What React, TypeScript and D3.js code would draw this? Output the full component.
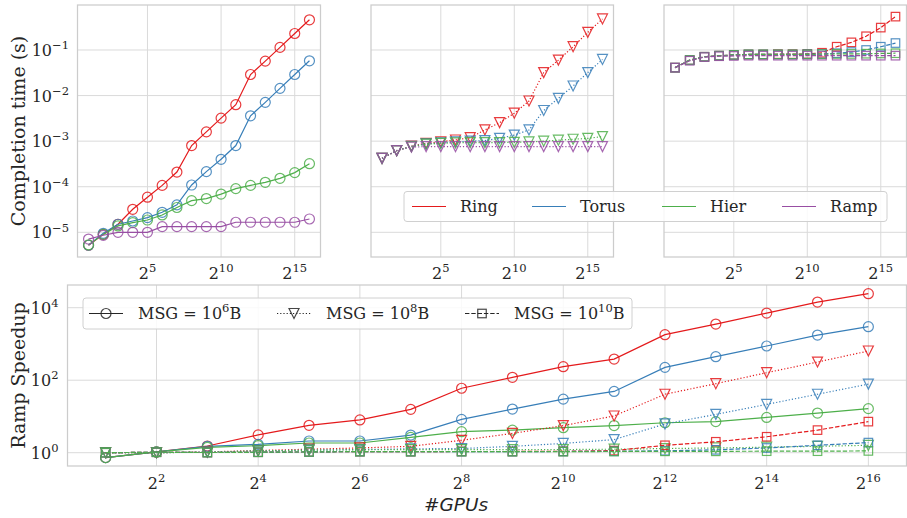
import React from 'react';
import * as d3 from 'd3';

const gpus = [2, 4, 8, 16, 32, 64, 128, 256, 512, 1024, 2048, 4096, 8192, 16384, 32768, 65536];
const algos = ['Ring', 'Torus', 'Hier', 'Ramp'];
const colors = ['#e41a1c', '#377eb8', '#4daf4a', '#984ea3'];

// Completion time (s), MSG = 1e6 B
const ring6 = [5.2e-6, 9e-6, 1.5e-5, 3.2e-5, 5.9e-5, 1.07e-4, 2.1e-4, 8e-4, 1.6e-3, 3.2e-3, 6.3e-3, 0.029, 0.057, 0.114, 0.23, 0.46];
const torus6 = [5.2e-6, 9.5e-6, 1.5e-5, 1.77e-5, 2.1e-5, 2.75e-5, 4.0e-5, 1.09e-4, 2.14e-4, 4.0e-4, 8e-4, 3.6e-3, 7.1e-3, 0.0144, 0.029, 0.058];
const hier6 = [5.3e-6, 9e-6, 1.38e-5, 1.63e-5, 1.86e-5, 2.4e-5, 3.5e-5, 4.95e-5, 5.5e-5, 6.9e-5, 9.1e-5, 1.07e-4, 1.25e-4, 1.53e-4, 2.04e-4, 3.2e-4];
const ramp6 = [7.1e-6, 8.6e-6, 1.0e-5, 1.0e-5, 1.0e-5, 1.33e-5, 1.33e-5, 1.33e-5, 1.33e-5, 1.33e-5, 1.66e-5, 1.66e-5, 1.66e-5, 1.66e-5, 1.66e-5, 1.96e-5];

// MSG = 1e8 B
const ring8 = [4.2e-4, 6.2e-4, 7.8e-4, 8.95e-4, 9.7e-4, 1.06e-3, 1.19e-3, 1.76e-3, 2.55e-3, 4.1e-3, 7.6e-3, 0.032, 0.060, 0.118, 0.244, 0.48];
const torus8 = [4.2e-4, 6.2e-4, 7.7e-4, 8.7e-4, 9.2e-4, 9.6e-4, 1.0e-3, 1.03e-3, 1.15e-3, 1.36e-3, 1.76e-3, 4.7e-3, 8.7e-3, 0.0162, 0.032, 0.062];
const hier8 = [4.2e-4, 6.2e-4, 7.6e-4, 8.6e-4, 8.9e-4, 9.2e-4, 9.3e-4, 9.3e-4, 9.3e-4, 9.4e-4, 9.6e-4, 1.0e-3, 1.05e-3, 1.1e-3, 1.15e-3, 1.26e-3];
const ramp8 = [4.2e-4, 6.2e-4, 7.4e-4, 7.6e-4, 7.6e-4, 7.6e-4, 7.6e-4, 7.6e-4, 7.6e-4, 7.6e-4, 7.6e-4, 7.6e-4, 7.6e-4, 7.6e-4, 7.6e-4, 7.6e-4];

// MSG = 1e10 B
const ring10 = [0.041, 0.060, 0.071, 0.075, 0.078, 0.080, 0.080, 0.081, 0.081, 0.082, 0.087, 0.118, 0.147, 0.20, 0.31, 0.54];
const torus10 = [0.041, 0.060, 0.071, 0.075, 0.078, 0.080, 0.080, 0.080, 0.080, 0.081, 0.082, 0.085, 0.090, 0.100, 0.118, 0.142];
const hier10 = [0.041, 0.060, 0.071, 0.075, 0.078, 0.080, 0.080, 0.080, 0.080, 0.080, 0.081, 0.082, 0.082, 0.083, 0.084, 0.085];
const ramp10 = [0.041, 0.058, 0.070, 0.073, 0.074, 0.075, 0.075, 0.075, 0.075, 0.075, 0.075, 0.075, 0.075, 0.075, 0.075, 0.075];

// Ramp speedup
const ringSp6 = [0.73, 1.05, 1.53, 3.1, 5.7, 8.0, 15.7, 60, 120, 236, 383, 1800, 3540, 7120, 14300, 24300];
const torusSp6 = [0.73, 1.05, 1.5, 1.7, 2.1, 2.1, 3.07, 8.3, 16, 30, 49, 226, 445, 877, 1760, 2990];
const hierSp6 = [0.73, 1.05, 1.4, 1.56, 1.85, 1.85, 2.65, 3.8, 4.2, 4.9, 5.6, 6.7, 7.2, 9.4, 12.4, 16.4];
const ringSp8 = [1.0, 1.0, 1.05, 1.15, 1.25, 1.35, 1.5, 2.2, 3.4, 5.6, 10.3, 41, 80, 161, 317, 638];
const torusSp8 = [1.0, 1.0, 1.04, 1.12, 1.18, 1.22, 1.28, 1.3, 1.5, 1.8, 2.3, 6.2, 11.4, 21.5, 41, 78];
const hierSp8 = [1.0, 1.0, 1.03, 1.12, 1.17, 1.2, 1.22, 1.22, 1.22, 1.22, 1.25, 1.3, 1.35, 1.42, 1.5, 1.6];
const ringSp10 = [1.0, 1.03, 1.01, 1.03, 1.05, 1.07, 1.07, 1.08, 1.08, 1.09, 1.14, 1.6, 2.0, 2.75, 4.2, 7.2];
const torusSp10 = [1.0, 1.03, 1.01, 1.03, 1.05, 1.07, 1.07, 1.07, 1.07, 1.08, 1.09, 1.13, 1.2, 1.35, 1.6, 1.9];
const hierSp10 = [1.0, 1.03, 1.01, 1.03, 1.05, 1.07, 1.07, 1.07, 1.07, 1.07, 1.08, 1.09, 1.09, 1.1, 1.1, 1.12];

const topXTickExp = [5, 10, 15];
const topYTickExp = [-5, -4, -3, -2, -1];
const botXTickExp = [2, 4, 6, 8, 10, 12, 14, 16];
const botYTickExp = [0, 2, 4];
const msgExp = ['6', '8', '10'];

const SERIF = '"DejaVu Serif", serif';
const GRID = '#dadada';
const SPINE = '#cccccc';
const LW = 1.2;

type Style = 'solid' | 'dotted' | 'dashed';
const dashFor = (s: Style) => (s === 'dotted' ? '1.2 2' : s === 'dashed' ? '4.4 1.9' : undefined);

function Marker({ kind, cx, cy, color }: { kind: number; cx: number; cy: number; color: string }) {
  const common = { fill: 'none', stroke: color, strokeWidth: 1.2, strokeOpacity: 0.85 };
  if (kind === 0) return <circle cx={cx} cy={cy} r={5} {...common} />;
  if (kind === 1) {
    const s = 10;
    const p = d3.path();
    p.moveTo(cx - s / 2, cy - s / 2);
    p.lineTo(cx + s / 2, cy - s / 2);
    p.lineTo(cx, cy + s / 2);
    p.closePath();
    return <path d={p.toString()} {...common} />;
  }
  const s = 8.5;
  return <rect x={cx - s / 2} y={cy - s / 2} width={s} height={s} {...common} />;
}

function Series({ xs, ys, values, color, style, kind }: any) {
  const line = d3
    .line<number>()
    .x((_, i) => xs(gpus[i]))
    .y((v) => ys(v));
  return (
    <g>
      <path d={line(values) || ''} fill="none" stroke={color} strokeWidth={LW} strokeDasharray={dashFor(style)} />
      {values.map((v: number, i: number) => (
        <Marker key={i} kind={kind} cx={xs(gpus[i])} cy={ys(v)} color={color} />
      ))}
    </g>
  );
}

function Pow({ base, exp, x, y, anchor, size }: any) {
  return (
    <text x={x} y={y} textAnchor={anchor} fontFamily={SERIF} fontSize={size} fill="#262626">
      {base}
      <tspan dy={-size * 0.42} fontSize={size * 0.72}>
        {exp}
      </tspan>
    </text>
  );
}

export default function App() {
  const W = 907;
  const H = 518;
  const topBox = [
    { x0: 77.5, x1: 320.5 },
    { x0: 371, x1: 613.5 },
    { x0: 664, x1: 906.5 },
  ];
  const topTop = 5;
  const topBot = 257;
  const yTop = d3.scaleLog().domain([Math.pow(10, -5.542), Math.pow(10, -0.0127)]).range([topBot, topTop]);
  const topData = [
    [ring6, torus6, hier6, ramp6],
    [ring8, torus8, hier8, ramp8],
    [ring10, torus10, hier10, ramp10],
  ];
  const styles: Style[] = ['solid', 'dotted', 'dashed'];

  const bx0 = 67.5;
  const bx1 = 906.5;
  const bTop = 285;
  const bBot = 466;
  const xBot = d3.scaleLog().base(2).domain([Math.pow(2, 0.25), Math.pow(2, 16.75)]).range([bx0, bx1]);
  const yBot = d3.scaleLog().domain([Math.pow(10, -0.367), Math.pow(10, 4.626)]).range([bBot, bTop]);
  const botData = [
    [ringSp6, torusSp6, hierSp6],
    [ringSp8, torusSp8, hierSp8],
    [ringSp10, torusSp10, hierSp10],
  ];

  return (
    <svg width={W} height={H} style={{ position: 'absolute', left: 0, top: 0, background: '#fff' }}>
      <rect x={0} y={0} width={W} height={H} fill="#fff" />
      {topBox.map((b, pi) => {
        const xs = d3.scaleLog().base(2).domain([Math.pow(2, 0.25), Math.pow(2, 16.75)]).range([b.x0, b.x1]);
        return (
          <g key={pi}>
            {topYTickExp.map((e) => (
              <line key={'gy' + e} x1={b.x0} x2={b.x1} y1={yTop(Math.pow(10, e))} y2={yTop(Math.pow(10, e))} stroke={GRID} strokeWidth={1} />
            ))}
            {topXTickExp.map((e) => (
              <line key={'gx' + e} x1={xs(Math.pow(2, e))} x2={xs(Math.pow(2, e))} y1={topTop} y2={topBot} stroke={GRID} strokeWidth={1} />
            ))}
            <rect x={b.x0} y={topTop} width={b.x1 - b.x0} height={topBot - topTop} fill="none" stroke={SPINE} strokeWidth={1.25} />
            {topData[pi].map((vals, ai) => (
              <Series key={ai} xs={xs} ys={yTop} values={vals} color={colors[ai]} style={styles[pi]} kind={pi} />
            ))}
            {topXTickExp.map((e) => (
              <Pow key={'tx' + e} base="2" exp={String(e)} x={xs(Math.pow(2, e))} y={279} anchor="middle" size={16} />
            ))}
            {pi === 0 &&
              topYTickExp.map((e) => (
                <Pow key={'ty' + e} base="10" exp={'\u2212' + Math.abs(e)} x={69} y={yTop(Math.pow(10, e)) + 6} anchor="end" size={16} />
              ))}
          </g>
        );
      })}
      <text transform={`translate(25,${(topTop + topBot) / 2}) rotate(-90)`} textAnchor="middle" fontFamily={SERIF} fontSize={19} fill="#262626">
        Completion time (s)
      </text>

      {/* top legend */}
      <g>
        <rect x={404} y={191.5} width={483} height={30} rx={3} fill="#fff" fillOpacity={0.85} stroke="#d0d0d0" strokeWidth={1} />
        {algos.map((a, i) => {
          const lx = [412, 532, 662, 782][i];
          return (
            <g key={a}>
              <line x1={lx} x2={lx + 34} y1={206.5} y2={206.5} stroke={colors[i]} strokeWidth={LW} />
              <text x={lx + 48} y={212} fontFamily={SERIF} fontSize={16} fill="#262626">
                {a}
              </text>
            </g>
          );
        })}
      </g>

      {/* bottom panel */}
      <g>
        {botYTickExp.map((e) => (
          <line key={'bgy' + e} x1={bx0} x2={bx1} y1={yBot(Math.pow(10, e))} y2={yBot(Math.pow(10, e))} stroke={GRID} strokeWidth={1} />
        ))}
        {botXTickExp.map((e) => (
          <line key={'bgx' + e} x1={xBot(Math.pow(2, e))} x2={xBot(Math.pow(2, e))} y1={bTop} y2={bBot} stroke={GRID} strokeWidth={1} />
        ))}
        <rect x={bx0} y={bTop} width={bx1 - bx0} height={bBot - bTop} fill="none" stroke={SPINE} strokeWidth={1.25} />
        {botData.map((group, mi) =>
          group.map((vals, ai) => (
            <Series key={mi + '-' + ai} xs={xBot} ys={yBot} values={vals} color={colors[ai]} style={styles[mi]} kind={mi} />
          ))
        )}
        {botXTickExp.map((e) => (
          <Pow key={'bx' + e} base="2" exp={String(e)} x={xBot(Math.pow(2, e))} y={489} anchor="middle" size={16} />
        ))}
        {botYTickExp.map((e) => (
          <Pow key={'by' + e} base="10" exp={String(e)} x={58.5} y={yBot(Math.pow(10, e)) + 6} anchor="end" size={16} />
        ))}
        <text transform={`translate(25,${(bTop + bBot) / 2}) rotate(-90)`} textAnchor="middle" fontFamily={SERIF} fontSize={19} fill="#262626">
          Ramp Speedup
        </text>
        <text x={456} y={511} textAnchor="middle" fontFamily='"DejaVu Sans", sans-serif' fontStyle="italic" fontSize={18.5} fill="#262626">
          #GPUs
        </text>

        {/* bottom legend */}
        <rect x={83} y={298} width={549} height={31} rx={3} fill="#fff" fillOpacity={0.85} stroke="#d0d0d0" strokeWidth={1} />
        {msgExp.map((m, i) => {
          const lx = [89, 277, 465][i];
          return (
            <g key={m}>
              <line x1={lx} x2={lx + 34} y1={313.5} y2={313.5} stroke="#262626" strokeWidth={LW} strokeDasharray={dashFor(styles[i])} />
              <Marker kind={i} cx={lx + 17} cy={313.5} color="#262626" />
              <text x={lx + 49} y={319} fontFamily={SERIF} fontSize={16} fill="#262626">
                {'MSG = 10'}
                <tspan dy={-6.7} fontSize={11.5}>
                  {m}
                </tspan>
                <tspan dy={6.7}>B</tspan>
              </text>
            </g>
          );
        })}
      </g>
    </svg>
  );
}
